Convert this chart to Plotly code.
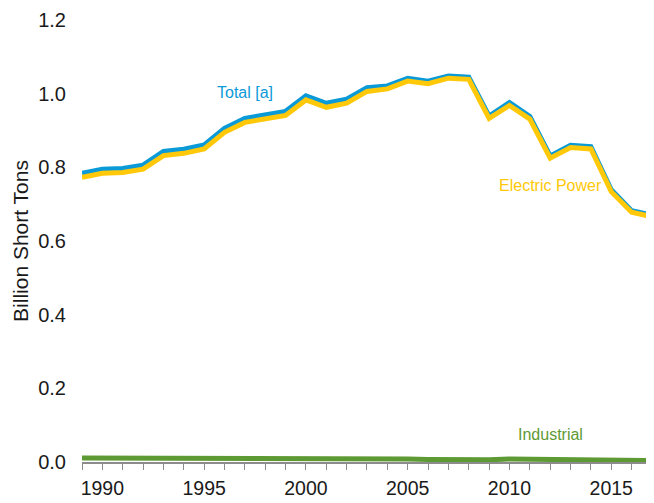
import plotly.graph_objects as go

years = list(range(1989, 2018))

total = [0.784, 0.795, 0.797, 0.806, 0.843, 0.849, 0.861, 0.906, 0.933, 0.944,
         0.952, 0.994, 0.974, 0.985, 1.016, 1.021, 1.042, 1.034, 1.048, 1.045,
         0.939, 0.976, 0.938, 0.831, 0.860, 0.856, 0.739, 0.682, 0.670]

electric_power = [0.773, 0.784, 0.786, 0.795, 0.832, 0.838, 0.850, 0.895, 0.922, 0.933,
                  0.941, 0.983, 0.963, 0.974, 1.006, 1.013, 1.034, 1.027, 1.042, 1.039,
                  0.933, 0.968, 0.931, 0.825, 0.854, 0.850, 0.734, 0.678, 0.666]

industrial = [0.011, 0.011, 0.011, 0.011, 0.011, 0.011, 0.011, 0.011, 0.011, 0.011,
              0.011, 0.011, 0.011, 0.011, 0.010, 0.008, 0.008, 0.007, 0.006, 0.006,
              0.006, 0.008, 0.007, 0.006, 0.006, 0.006, 0.005, 0.004, 0.004]

x_tick_vals = [1990, 1995, 2000, 2005, 2010, 2015]
x_tick_text = ["1990", "1995", "2000", "2005", "2010", "2015"]
y_tick_vals = [0.0, 0.2, 0.4, 0.6, 0.8, 1.0, 1.2]
y_tick_text = ["0.0", "0.2", "0.4", "0.6", "0.8", "1.0", "1.2"]

BLUE = "#0A9AD7"
YELLOW = "#FFC808"
GREEN = "#5E9A34"
FONT = "Liberation Sans, Arial, sans-serif"

fig = go.Figure()
fig.add_trace(go.Scatter(x=years, y=total, mode="lines", name="Total [a]",
                         line=dict(color=BLUE, width=5)))
fig.add_trace(go.Scatter(x=years, y=electric_power, mode="lines", name="Electric Power",
                         line=dict(color=YELLOW, width=5)))
fig.add_trace(go.Scatter(x=years, y=industrial, mode="lines", name="Industrial",
                         line=dict(color=GREEN, width=5)))

fig.add_annotation(x=1997.0, y=1.003, text="Total [a]", showarrow=False,
                   font=dict(family=FONT, size=16, color=BLUE))
fig.add_annotation(x=2012.0, y=0.750, text="Electric Power", showarrow=False,
                   font=dict(family=FONT, size=16, color=YELLOW))
fig.add_annotation(x=2012.0, y=0.075, text="Industrial", showarrow=False,
                   font=dict(family=FONT, size=16, color=GREEN))

# the page body adds an 8px offset, so the figure is sized to fit the window
fig.update_layout(
    width=646, height=495,
    margin=dict(l=74, r=0, t=12, b=41),
    paper_bgcolor="white", plot_bgcolor="white",
    showlegend=False,
    font=dict(family=FONT, size=20, color="#1a1a1a"),
    xaxis=dict(
        range=[1989, 2017.1],
        tickvals=x_tick_vals, ticktext=x_tick_text,
        ticks="outside", ticklen=6, tickwidth=1, tickcolor="#8c8c8c",
        minor=dict(dtick=1, tick0=1989, ticks="outside", ticklen=6, tickwidth=1,
                   tickcolor="#8c8c8c", showgrid=False),
        showline=True, linecolor="#8c8c8c", linewidth=2,
        showgrid=False, zeroline=False,
        ticklabelstandoff=2,
        tickfont=dict(family=FONT, size=19.5, color="#1a1a1a"),
    ),
    yaxis=dict(
        range=[0, 1.2],
        tickvals=y_tick_vals, ticktext=y_tick_text,
        showgrid=False, zeroline=False, showline=False,
        ticks="", ticklabelstandoff=15,
        tickfont=dict(family=FONT, size=20, color="#1a1a1a"),
        title=dict(text="Billion Short Tons", standoff=3,
                   font=dict(family=FONT, size=21, color="#1a1a1a")),
    ),
)

fig.write_html("out.html")
